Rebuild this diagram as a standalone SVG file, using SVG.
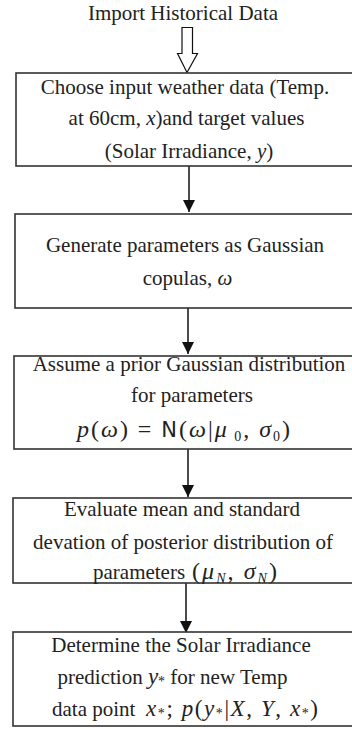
<svg xmlns="http://www.w3.org/2000/svg" width="352" height="729" viewBox="0 0 352 729">
<style>
.box{fill:#fff;stroke:#333;stroke-width:1.6}
.t{font-family:"Liberation Serif","Times New Roman",serif;font-size:21px;fill:#222;text-anchor:middle}
.s{text-anchor:start}
.m{font-style:italic}
.ms{font-family:"DejaVu Sans","Liberation Sans",sans-serif;font-style:normal;font-size:21px}
.sub{font-size:14px}
.conn{stroke:#111;stroke-width:1.5;fill:none}
</style>
<defs>
<marker id="ah" markerUnits="userSpaceOnUse" markerWidth="12" markerHeight="12" refX="12" refY="6" orient="auto">
<path d="M0,0 L12,6 L0,12 Z" fill="#111"/>
</marker>
</defs>
<rect width="352" height="729" fill="#fff"/>
<g id="start">
<text class="t" x="183" y="20">Import Historical Data</text>
</g>
<g id="connectors">
<polygon points="182,27.5 192.5,27.5 192.5,53.5 197.5,53.5 187,72.5 177.5,53.5 182,53.5" fill="#fff" stroke="#111" stroke-width="1.2"/>
<line class="conn" x1="189" y1="166" x2="189" y2="212" marker-end="url(#ah)"/>
<line class="conn" x1="188" y1="308" x2="188" y2="354" marker-end="url(#ah)"/>
<line class="conn" x1="188" y1="449" x2="188" y2="497" marker-end="url(#ah)"/>
<line class="conn" x1="186" y1="583" x2="186" y2="633" marker-end="url(#ah)"/>
</g>
<g id="box1">
<rect class="box" x="16" y="73" width="350" height="93"/>
<text class="t" x="185" y="94">Choose input weather data (Temp.</text>
<text class="t" x="186.5" y="125">at 60cm, <tspan class="m">x</tspan>)and target values</text>
<text class="t" x="189" y="158">(Solar Irradiance, <tspan class="m">y</tspan>)</text>
</g>
<g id="box2">
<rect class="box" x="15" y="214" width="350" height="94"/>
<text class="t" x="185" y="252">Generate parameters as Gaussian</text>
<text class="t" x="187.5" y="285">copulas, <tspan class="m">ω</tspan></text>
</g>
<g id="box3">
<rect class="box" x="14" y="356" width="350" height="93"/>
<text class="t" x="189" y="371">Assume a prior Gaussian distribution</text>
<text class="t" x="192" y="402">for parameters</text>
<text class="t" x="183.5" y="437" style="font-size:24px" textLength="213" lengthAdjust="spacing"><tspan class="m">p</tspan>(<tspan class="m">ω</tspan>)  =  <tspan class="ms">N</tspan>(<tspan class="m">ω</tspan>|<tspan class="m">μ</tspan><tspan class="sub" dy="4"> 0</tspan><tspan dy="-4">, </tspan><tspan class="m">σ</tspan><tspan class="sub" dy="4">0</tspan><tspan dy="-4">)</tspan></text>
</g>
<g id="box4">
<rect class="box" x="13" y="498" width="350" height="85"/>
<text class="t" x="182" y="516">Evaluate mean and standard</text>
<text class="t" x="183" y="549">devation of posterior distribution of</text>
<text class="t s" x="93" y="579">parameters</text>
<text class="t s" x="192" y="579" style="font-size:24px" textLength="85" lengthAdjust="spacing">(<tspan class="m">μ</tspan><tspan class="sub m" dy="4">N</tspan><tspan dy="-4">, </tspan><tspan class="m">σ</tspan><tspan class="sub m" dy="4">N</tspan><tspan dy="-4">)</tspan></text>
</g>
<g id="box5">
<rect class="box" x="13" y="632" width="350" height="94"/>
<text class="t" x="181" y="652">Determine the Solar Irradiance</text>
<text class="t" x="172.5" y="684">prediction <tspan class="m" style="font-size:23px">y</tspan><tspan class="sub" dy="2">*</tspan><tspan dy="-2"> for new Temp</tspan></text>
<text class="t s" x="52" y="716">data point</text>
<text class="t s" x="146" y="716" style="font-size:23px" textLength="172" lengthAdjust="spacing"><tspan class="m">x</tspan><tspan class="sub" dy="2">*</tspan><tspan dy="-2">;  <tspan class="m">p</tspan>(<tspan class="m">y</tspan></tspan><tspan class="sub" dy="2">*</tspan><tspan dy="-2">|<tspan class="m">X</tspan>, <tspan class="m">Y</tspan>, <tspan class="m">x</tspan></tspan><tspan class="sub" dy="2">*</tspan><tspan dy="-2">)</tspan></text>
</g>
</svg>
